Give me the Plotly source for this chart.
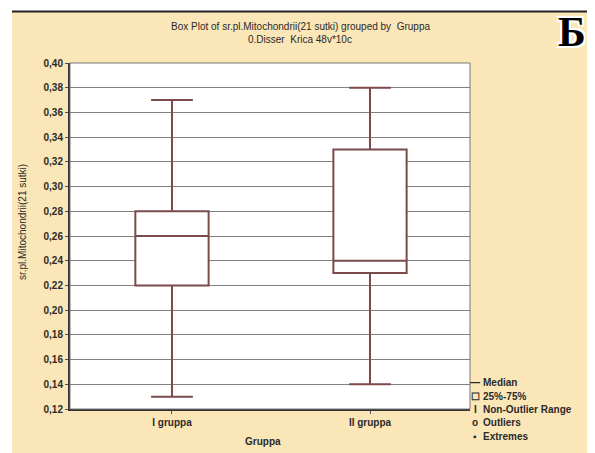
import plotly.graph_objects as go

categories = ["I gruppa", "II gruppa"]
q1 = [0.22, 0.23]
median = [0.26, 0.24]
q3 = [0.28, 0.33]
lower = [0.13, 0.14]
upper = [0.37, 0.38]
yticks = [0.12 + 0.02 * i for i in range(15)]
legend_items = [("—", "Median"), ("☐", "25%-75%"), ("I", "Non-Outlier Range"),
                ("o", "Outliers"), ("▪", "Extremes")]

OFF = 8  # page body margin
W, H = 595, 453
pw, ph = 400, 346
L, T = 70 - OFF, 63 - OFF
R, B = W - L - pw, H - T - ph

def px(x):
    return (x - OFF - L) / pw

def py(y):
    return (T + ph - (y - OFF)) / ph

cream = "#fbe6b8"
boxcol = "#7b4a4a"
txtcol = "#2a2a2a"

fig = go.Figure()
for i, c in enumerate(categories):
    fig.add_trace(go.Box(
        x=[c], q1=[q1[i]], median=[median[i]], q3=[q3[i]],
        lowerfence=[lower[i]], upperfence=[upper[i]],
        width=0.37, whiskerwidth=0.57,
        fillcolor="white", line=dict(color=boxcol, width=2),
        showlegend=False, hoverinfo="skip",
    ))

font = "Liberation Sans, Arial, sans-serif"

def a(text, x, y, size=10, bold=False, xanchor="center", **kw):
    d = dict(text=text, x=px(x), y=py(y), xref="paper", yref="paper", showarrow=False,
             xanchor=xanchor, yanchor="middle",
             font=dict(family=font, size=size, color=txtcol, weight="bold" if bold else "normal"))
    d.update(kw)
    return d

ann = [
    a("Box Plot of sr.pl.Mitochondrii(21 sutki) grouped by  Gruppa", 300, 27),
    a("0.Disser  Krica 48v*10c", 300, 40),
    a("sr.pl.Mitochondrii(21 sutki)", 22, 222, textangle=-90),
    a("Gruppa", 263, 441, bold=True),
]
ann.append(dict(text="Б", x=px(572), y=py(32), xref="paper", yref="paper", showarrow=False,
                xanchor="center", yanchor="middle",
                font=dict(family="Liberation Serif, DejaVu Serif, serif", size=42, color="black",
                          weight="bold",
                          shadow="2px 2px 0 white, -2px -2px 0 white, 2px -2px 0 white, -2px 2px 0 white")))
ly = [382, 396, 409, 422, 436]
for (sym, txt), yy in zip(legend_items, ly):
    ann.append(a(sym, 475, yy, bold=True))
    ann.append(a(txt, 481, yy, bold=True, xanchor="left"))

shapes = [
    dict(type="rect", xref="paper", yref="paper", x0=px(0), x1=px(12), y0=py(470), y1=py(-10),
         fillcolor="white", line=dict(width=0), layer="below"),
    dict(type="rect", xref="paper", yref="paper", x0=px(588), x1=px(610), y0=py(470), y1=py(-10),
         fillcolor="white", line=dict(width=0), layer="below"),
    dict(type="rect", xref="paper", yref="paper", x0=px(-10), x1=px(610), y0=py(11), y1=py(-10),
         fillcolor="white", line=dict(width=0), layer="below"),
    dict(type="line", xref="paper", yref="paper", x0=px(12), x1=px(588), y0=py(11.5), y1=py(11.5),
         line=dict(color="#222", width=2)),
    dict(type="rect", xref="paper", yref="paper", x0=0, x1=1, y0=0, y1=1,
         line=dict(color="#777", width=1)),
]

fig.update_layout(
    width=W, height=H, margin=dict(l=L, r=R, t=T, b=B),
    paper_bgcolor=cream, plot_bgcolor="white",
    separators=",.",
    annotations=ann, shapes=shapes,
    xaxis=dict(type="category", range=[-0.515, 1.505], showgrid=False,
               showline=True, linecolor="#333", linewidth=2,
               ticks="outside", ticklen=3, tickcolor="#555",
               tickfont=dict(family=font, size=10, color=txtcol, weight="bold")),
    yaxis=dict(range=[0.12, 0.40], tickvals=yticks, tickformat=".2f",
               showgrid=True, gridcolor="#808080", gridwidth=1, zeroline=False,
               showline=True, linecolor="#333", linewidth=2,
               ticks="outside", ticklen=3, tickcolor="#555",
               tickfont=dict(family=font, size=10, color=txtcol, weight="bold")),
)

fig.write_html("out.html")
